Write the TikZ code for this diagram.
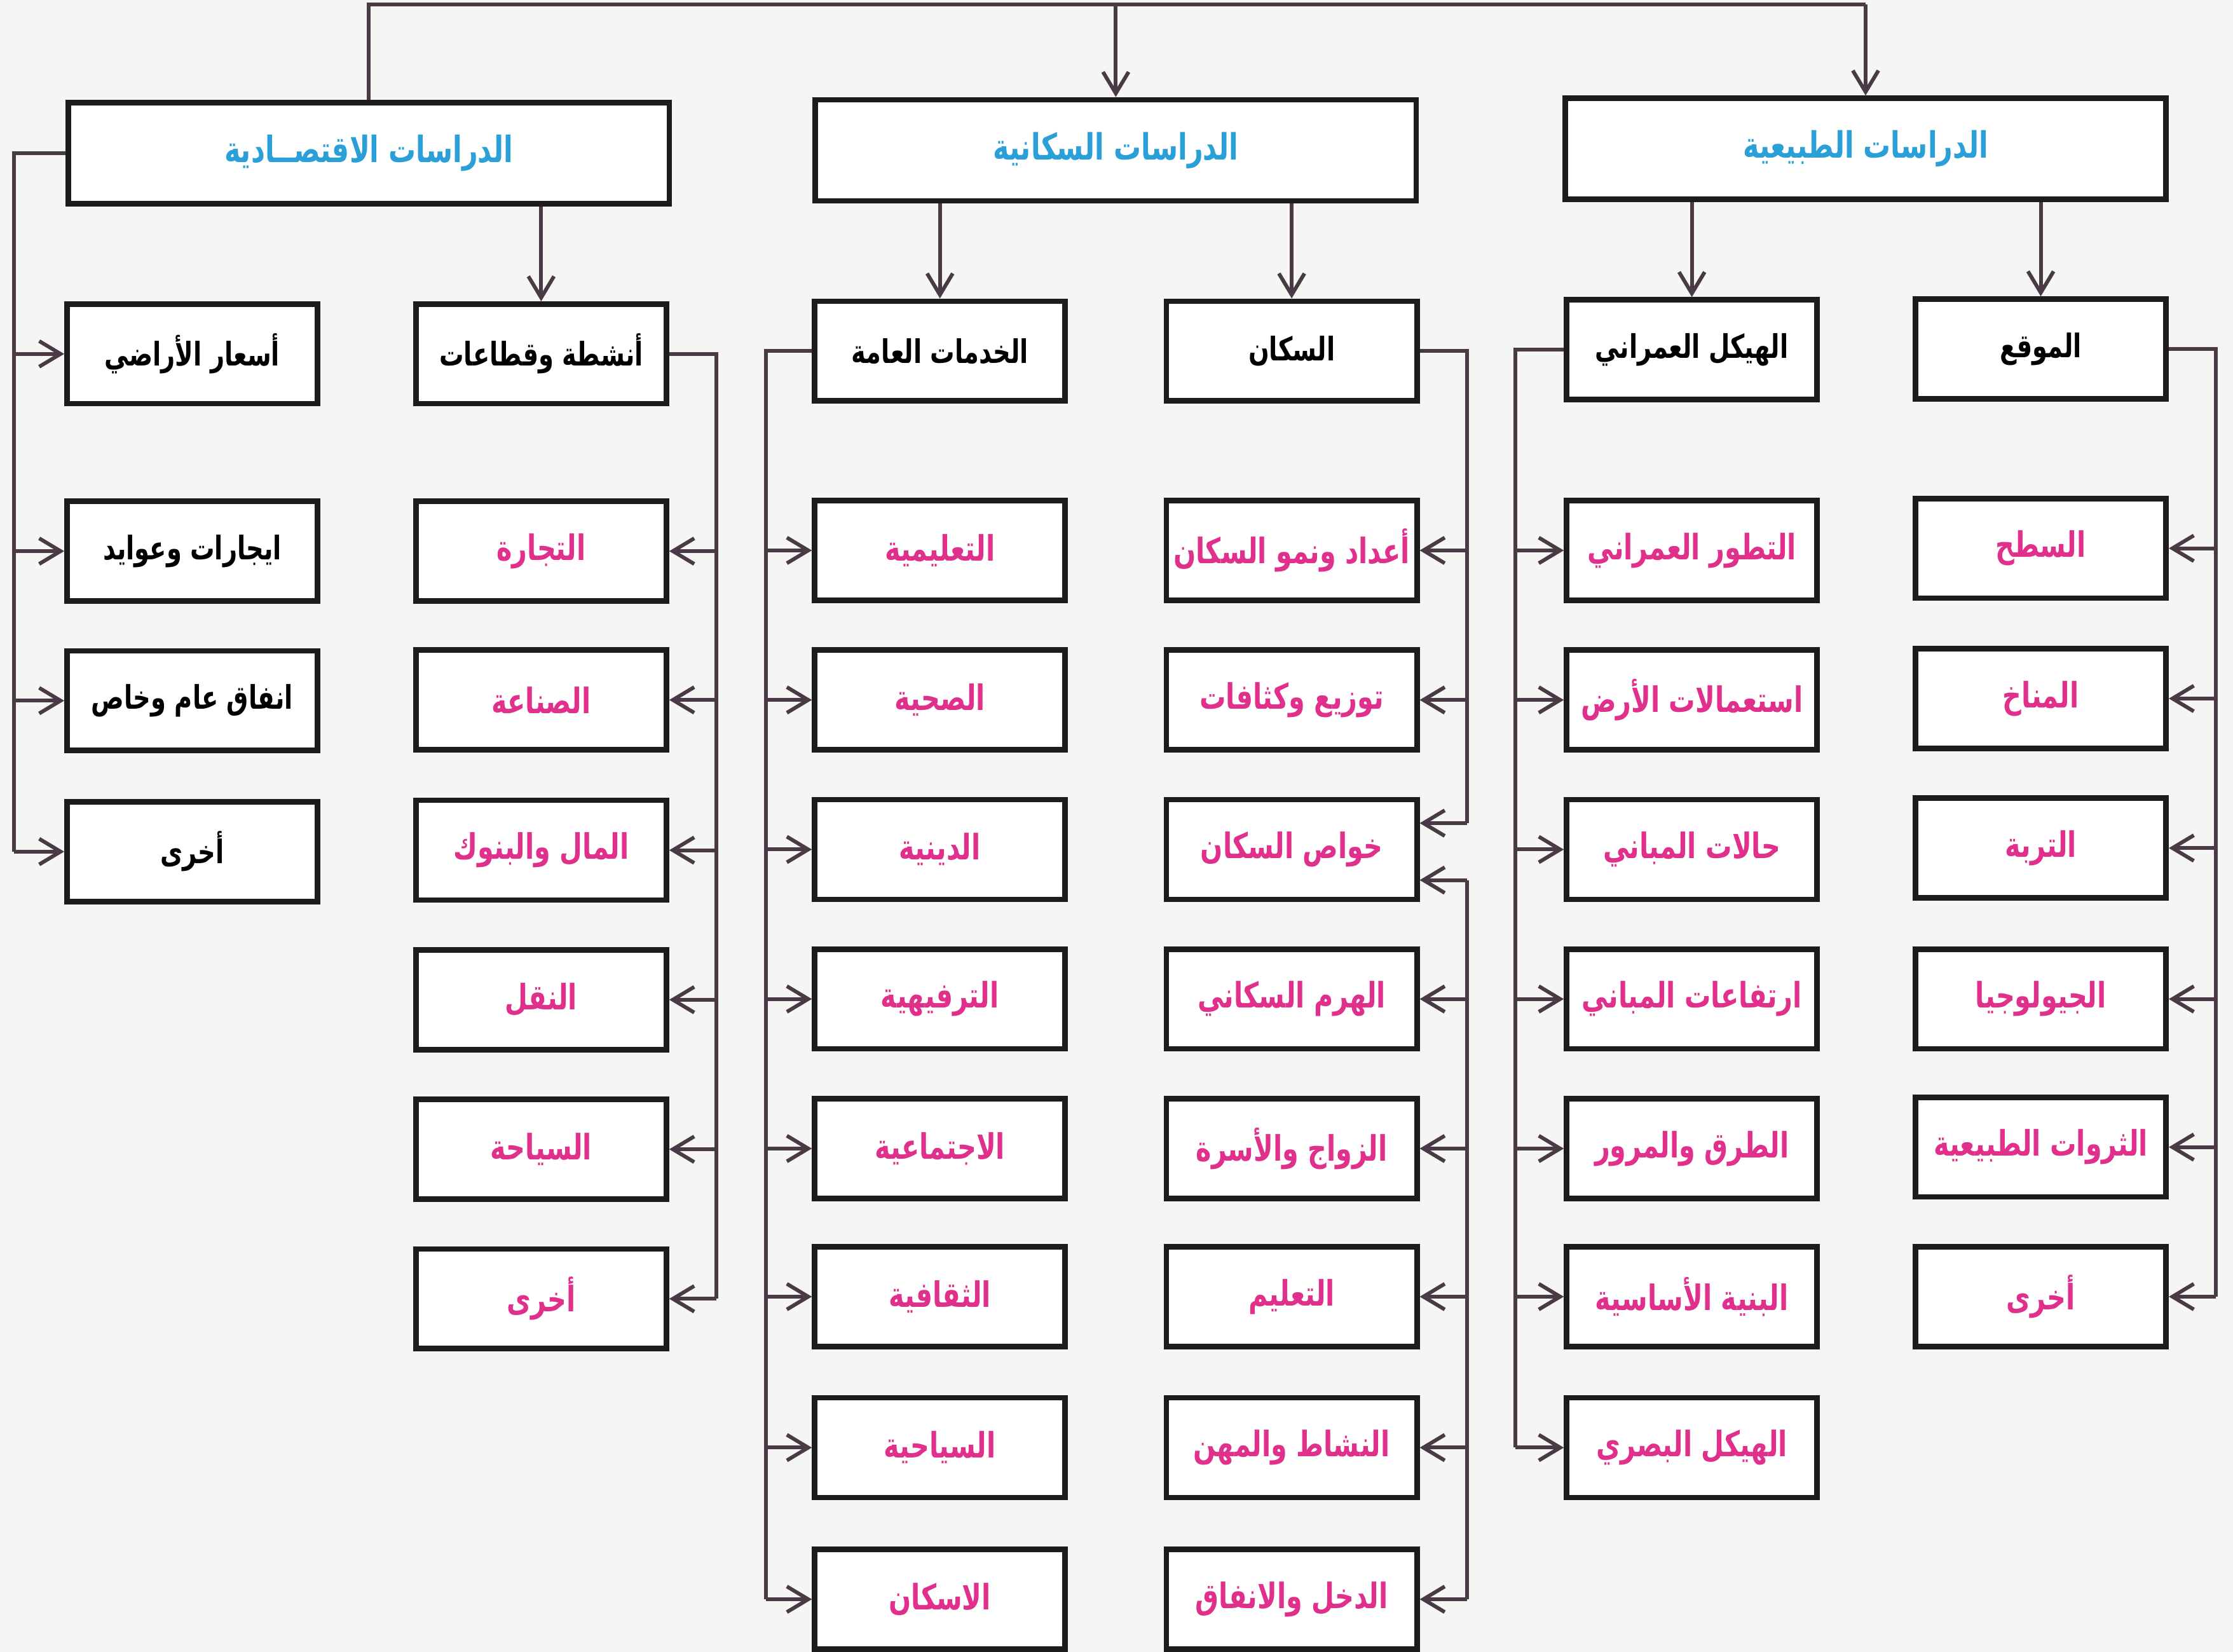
\documentclass[tikz,border=0pt]{standalone}
\usepackage{fontspec}
\usetikzlibrary{arrows.meta}
\TeXXeTstate=1
\newfontfamily\arabicfont[Script=Arabic, FakeStretch=0.75]{DejaVu Sans}
\newcommand{\rl}[1]{\beginR #1\endR}
\definecolor{bgc}{HTML}{F5F5F3}
\definecolor{boxc}{HTML}{1C1C1C}
\definecolor{linec}{HTML}{4A3A46}
\definecolor{bluet}{HTML}{2A9FD8}
\definecolor{magt}{HTML}{E0308C}
\tikzset{
  boxst/.style={draw=boxc, line width=2.2pt, fill=white, minimum width=3.52cm, minimum height=1.4cm, inner sep=0pt},
  bigst/.style={boxst, minimum width=8.44cm, minimum height=1.42cm, text=bluet, font=\arabicfont\bfseries\fontsize{14.5}{17}\selectfont},
  blk/.style={boxst, text=black, font=\arabicfont\bfseries\fontsize{13}{16}\selectfont},
  mag/.style={boxst, text=magt, font=\arabicfont\bfseries\fontsize{14}{17}\selectfont},
  conn/.style={draw=linec, line width=1.5pt},
  arr/.style={conn, -{Straight Barb[length=3mm, width=3.6mm]}}
}
\begin{document}
\begin{tikzpicture}[x=0.02cm, y=-0.02cm]
\fill[bgc] (0,0) rectangle (1568,1160);
\useasboundingbox (0,0) rectangle (1568,1160);
% top level
\node[bigst] (econ) at (259,107.5) {\rl{الدراسات الاقتصــادية}};
\node[bigst] (pop) at (783.5,105.5) {\rl{الدراسات السكانية}};
\node[bigst] (nat) at (1310,104.5) {\rl{الدراسات الطبيعية}};
% level 2
\node[blk] (e0) at (135,248.5) {\rl{أسعار الأراضي}};
\node[blk] (ans) at (380,248.5) {\rl{أنشطة وقطاعات}};
\node[blk] (kha) at (660,246.5) {\rl{الخدمات العامة}};
\node[blk] (suk) at (907,246.5) {\rl{السكان}};
\node[blk] (hay) at (1188,245.5) {\rl{الهيكل العمراني}};
\node[blk] (maw) at (1433,245) {\rl{الموقع}};
% economic left column
\node[blk] (e1) at (135,387) {\rl{ايجارات وعوايد}};
\node[blk] (e2) at (135,492) {\rl{انفاق عام وخاص}};
\node[blk] (e3) at (135,598) {\rl{أخرى}};
% activities
\node[mag] (a1) at (380,387) {\rl{التجارة}};
\node[mag] (a2) at (380,491.5) {\rl{الصناعة}};
\node[mag] (a3) at (380,597) {\rl{المال والبنوك}};
\node[mag] (a4) at (380,702) {\rl{النقل}};
\node[mag] (a5) at (380,807) {\rl{السياحة}};
\node[mag] (a6) at (380,912) {\rl{أخرى}};
% public services
\node[mag] (k1) at (660,386.5) {\rl{التعليمية}};
\node[mag] (k2) at (660,491.5) {\rl{الصحية}};
\node[mag] (k3) at (660,596.5) {\rl{الدينية}};
\node[mag] (k4) at (660,701.5) {\rl{الترفيهية}};
\node[mag] (k5) at (660,806.5) {\rl{الاجتماعية}};
\node[mag] (k6) at (660,910.5) {\rl{الثقافية}};
\node[mag] (k7) at (660,1016.5) {\rl{السياحية}};
\node[mag] (k8) at (660,1123) {\rl{الاسكان}};
% population
\node[mag] (p1) at (907,386.5) {\rl{أعداد ونمو السكان}};
\node[mag] (p2) at (907,491.5) {\rl{توزيع وكثافات}};
\node[mag] (p3) at (907,596.5) {\rl{خواص السكان}};
\node[mag] (p4) at (907,701.5) {\rl{الهرم السكاني}};
\node[mag] (p5) at (907,806.5) {\rl{الزواج والأسرة}};
\node[mag] (p6) at (907,910.5) {\rl{التعليم}};
\node[mag] (p7) at (907,1016.5) {\rl{النشاط والمهن}};
\node[mag] (p8) at (907,1123) {\rl{الدخل والانفاق}};
% urban structure
\node[mag] (h1) at (1188,386.5) {\rl{التطور العمراني}};
\node[mag] (h2) at (1188,491.5) {\rl{استعمالات الأرض}};
\node[mag] (h3) at (1188,596.5) {\rl{حالات المباني}};
\node[mag] (h4) at (1188,701.5) {\rl{ارتفاعات المباني}};
\node[mag] (h5) at (1188,806.5) {\rl{الطرق والمرور}};
\node[mag] (h6) at (1188,910.5) {\rl{البنية الأساسية}};
\node[mag] (h7) at (1188,1016.5) {\rl{الهيكل البصري}};
% location
\node[mag] (m1) at (1433,385) {\rl{السطح}};
\node[mag] (m2) at (1433,490.5) {\rl{المناخ}};
\node[mag] (m3) at (1433,595.5) {\rl{التربة}};
\node[mag] (m4) at (1433,701.5) {\rl{الجيولوجيا}};
\node[mag] (m5) at (1433,805.5) {\rl{الثروات الطبيعية}};
\node[mag] (m6) at (1433,910.5) {\rl{أخرى}};
% bus coordinates
\coordinate (topbus) at (0,3);
\coordinate (ebus) at (10,0);
\coordinate (abus) at (503,0);
\coordinate (kbus) at (538,0);
\coordinate (pbus) at (1030,0);
\coordinate (hbus) at (1064,0);
\coordinate (mbus) at (1556,0);
% top connectors
\draw[conn] (econ.north) -- (econ.north |- topbus) -- (nat.north |- topbus);
\draw[arr] (pop.north |- topbus) -- (pop.north);
\draw[arr] (nat.north |- topbus) -- (nat.north);
% level 1 -> level 2
\draw[arr] (ans.north |- econ.south) -- (ans.north);
\draw[arr] (kha.north |- pop.south) -- (kha.north);
\draw[arr] (suk.north |- pop.south) -- (suk.north);
\draw[arr] (hay.north |- nat.south) -- (hay.north);
\draw[arr] (maw.north |- nat.south) -- (maw.north);
% economic bus
\draw[conn] (econ.west) -| (ebus |- e3.west);
\foreach \n in {e0,e1,e2,e3} \draw[arr] (ebus |- \n.west) -- (\n.west);
% activities bus
\draw[conn] (ans.east) -| (abus |- a6.east);
\foreach \n in {a1,a2,a3,a4,a5,a6} \draw[arr] (abus |- \n.east) -- (\n.east);
% services bus
\draw[conn] (kha.west) -| (kbus |- k8.west);
\foreach \n in {k1,k2,k3,k4,k5,k6,k7,k8} \draw[arr] (kbus |- \n.west) -- (\n.west);
% population bus (two segments)
\coordinate (pA) at (0,578);
\coordinate (pB) at (0,618);
\draw[conn] (suk.east) -| (pbus |- pA);
\draw[arr] (pbus |- p1.east) -- (p1.east);
\draw[arr] (pbus |- p2.east) -- (p2.east);
\draw[arr] (pbus |- pA) -- (p3.east |- pA);
\draw[conn] (pbus |- pB) -- (pbus |- p8.east);
\draw[arr] (pbus |- pB) -- (p3.east |- pB);
\foreach \n in {p4,p5,p6,p7,p8} \draw[arr] (pbus |- \n.east) -- (\n.east);
% urban structure bus
\draw[conn] (hay.west) -| (hbus |- h7.west);
\foreach \n in {h1,h2,h3,h4,h5,h6,h7} \draw[arr] (hbus |- \n.west) -- (\n.west);
% location bus
\draw[conn] (maw.east) -| (mbus |- m6.east);
\foreach \n in {m1,m2,m3,m4,m5,m6} \draw[arr] (mbus |- \n.east) -- (\n.east);
\end{tikzpicture}
\end{document}
